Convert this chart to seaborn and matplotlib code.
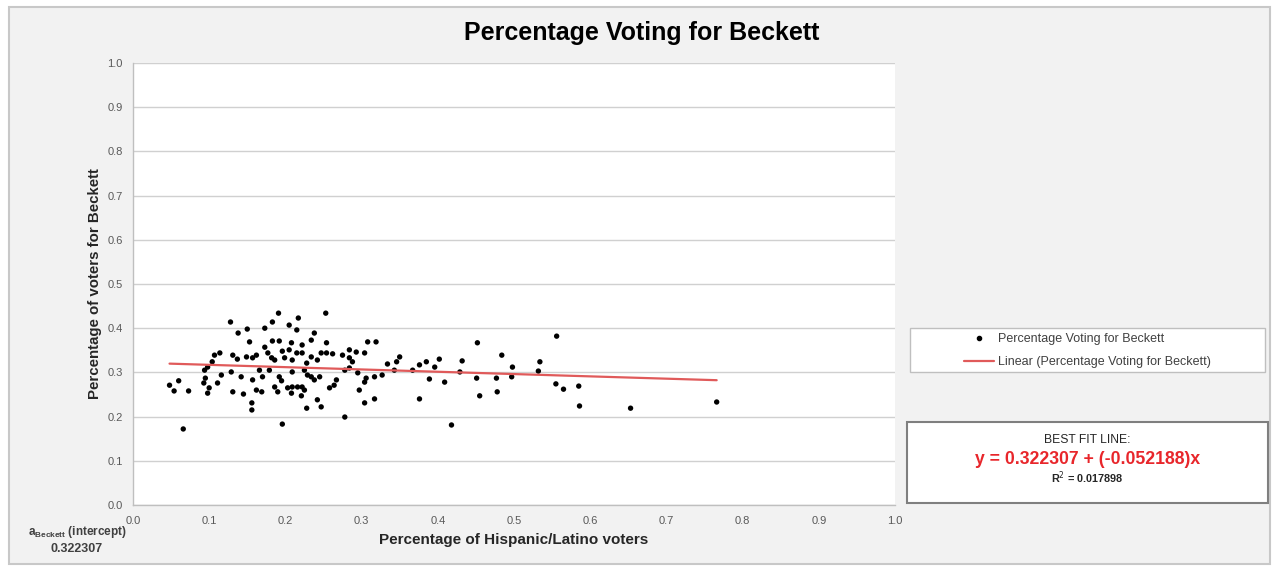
import numpy as np
import pandas as pd
import seaborn as sns
import matplotlib.pyplot as plt
from matplotlib.patches import Rectangle
from matplotlib.lines import Line2D

# share of Hispanic/Latino voters (x) and share voting for Beckett (y)
hispanic_share = [
    0.048, 0.060, 0.054, 0.073, 0.066, 0.093, 0.095, 0.098, 0.100, 0.098,
    0.094, 0.104, 0.107, 0.114, 0.111, 0.116, 0.128, 0.131, 0.129, 0.131,
    0.137, 0.138, 0.142, 0.145, 0.149, 0.150,
    0.191, 0.217, 0.253, 0.183, 0.205, 0.173, 0.215, 0.238, 0.234, 0.183,
    0.192, 0.208, 0.222, 0.254, 0.308, 0.319, 0.153, 0.173, 0.177, 0.196,
    0.205, 0.215, 0.222, 0.234, 0.247, 0.254, 0.262, 0.275, 0.284, 0.293,
    0.304, 0.284, 0.288, 0.157, 0.162, 0.182, 0.186, 0.199, 0.209, 0.228,
    0.242, 0.334, 0.346, 0.350, 0.385, 0.402, 0.432, 0.396, 0.166, 0.179,
    0.209, 0.225, 0.229, 0.278, 0.284, 0.295, 0.306, 0.317, 0.327, 0.343,
    0.367, 0.376, 0.389, 0.409, 0.429, 0.451, 0.452, 0.477, 0.157, 0.170,
    0.192, 0.195, 0.234, 0.238, 0.245, 0.267, 0.264, 0.258, 0.304, 0.162,
    0.169, 0.186, 0.190, 0.203, 0.209, 0.216, 0.222, 0.225, 0.208, 0.221,
    0.297, 0.455, 0.376, 0.304, 0.317, 0.242, 0.247, 0.228, 0.156, 0.156,
    0.278, 0.196, 0.418, 0.478,
    0.484, 0.498, 0.497, 0.556, 0.534, 0.532, 0.555, 0.565, 0.585, 0.586,
    0.653, 0.766,
]
beckett_share = [
    0.271, 0.281, 0.258, 0.258, 0.172, 0.276, 0.287, 0.253, 0.265, 0.312,
    0.305, 0.324, 0.339, 0.344, 0.276, 0.294, 0.414, 0.256, 0.301, 0.339,
    0.330, 0.389, 0.290, 0.251, 0.335, 0.398,
    0.434, 0.423, 0.434, 0.414, 0.407, 0.400, 0.396, 0.389, 0.373, 0.371,
    0.371, 0.367, 0.362, 0.367, 0.369, 0.369, 0.369, 0.357, 0.344, 0.348,
    0.351, 0.344, 0.344, 0.335, 0.344, 0.344, 0.342, 0.339, 0.351, 0.346,
    0.344, 0.333, 0.324, 0.333, 0.339, 0.333, 0.328, 0.333, 0.328, 0.321,
    0.328, 0.319, 0.324, 0.335, 0.324, 0.330, 0.326, 0.312, 0.305, 0.305,
    0.301, 0.305, 0.294, 0.305, 0.310, 0.299, 0.287, 0.290, 0.294, 0.305,
    0.305, 0.317, 0.285, 0.278, 0.301, 0.287, 0.367, 0.287, 0.283, 0.290,
    0.290, 0.281, 0.290, 0.283, 0.290, 0.283, 0.271, 0.265, 0.278, 0.260,
    0.256, 0.267, 0.256, 0.265, 0.267, 0.267, 0.267, 0.260, 0.253, 0.247,
    0.260, 0.247, 0.240, 0.231, 0.240, 0.238, 0.222, 0.219, 0.231, 0.215,
    0.199, 0.183, 0.181, 0.256,
    0.339, 0.312, 0.290, 0.382, 0.324, 0.303, 0.274, 0.262, 0.269, 0.224,
    0.219, 0.233,
]

intercept = 0.322307
slope = -0.052188
r_squared = 0.017898

ticks = [0.0, 0.1, 0.2, 0.3, 0.4, 0.5, 0.6, 0.7, 0.8, 0.9, 1.0]

df = pd.DataFrame({"hispanic": hispanic_share, "beckett": beckett_share})
x_fit = np.array([df["hispanic"].min(), df["hispanic"].max()])
fit = pd.DataFrame({"x": x_fit, "y": intercept + slope * x_fit})

sns.set_theme(style="white")
plt.rcParams["font.family"] = ["Liberation Sans", "DejaVu Sans"]

fig = plt.figure(figsize=(12.76, 5.71), dpi=100)
fig.patch.set_facecolor("white")
fig.patches.append(Rectangle((0.007, 0.012), 0.988, 0.975, transform=fig.transFigure,
                             facecolor="#f2f2f2", edgecolor="#c8c8c8", lw=1.5, zorder=-2))

ax = fig.add_axes([0.1042, 0.1156, 0.5972, 0.7741])
ax.set_zorder(2)
ax.set_facecolor("white")

sns.scatterplot(data=df, x="hispanic", y="beckett", ax=ax, color="black",
                s=15, edgecolor="none", zorder=3)
sns.lineplot(data=fit, x="x", y="y", ax=ax, color="#e05a5a", lw=1.6, zorder=4)

ax.set_xlim(0, 1)
ax.set_ylim(0, 1)
ax.set_xticks(ticks)
ax.set_yticks(ticks)
ax.set_xticklabels([f"{t:.1f}" for t in ticks])
ax.set_yticklabels([f"{t:.1f}" for t in ticks])
ax.tick_params(axis="both", labelsize=8, colors="#595959", length=4, width=0.8,
               direction="out")
ax.tick_params(axis="x", pad=4)
ax.yaxis.grid(True, color="#d0d0d0", lw=1)
ax.xaxis.grid(False)
for side in ["top", "right"]:
    ax.spines[side].set_visible(False)
for side in ["left", "bottom"]:
    ax.spines[side].set_color("#bfbfbf")
    ax.spines[side].set_linewidth(1)

ax.set_xlabel("Percentage of Hispanic/Latino voters", fontsize=11, fontweight="bold",
              color="#262626", labelpad=5)
ax.set_ylabel("Percentage of voters for Beckett", fontsize=10.8, fontweight="bold",
              color="#262626", labelpad=4)

fig.text(0.503, 0.943, "Percentage Voting for Beckett", ha="center", va="center",
         fontsize=18, fontweight="bold", color="black")

# intercept note under the y axis
fig.text(0.061, 0.069, r"a$_{\mathregular{Beckett}}$ (intercept)", ha="center",
         va="center", fontsize=8.5, fontweight="bold", color="#404040")
fig.text(0.060, 0.038, f"{intercept:.6f}", ha="center", va="center",
         fontsize=9, fontweight="bold", color="#404040")

# legend box
fig.patches.append(Rectangle((0.713, 0.349), 0.278, 0.077, transform=fig.transFigure,
                             facecolor="white", edgecolor="#bfbfbf", lw=1, zorder=1))
handles = [
    Line2D([], [], marker="o", color="black", ls="none", markersize=3),
    Line2D([], [], color="#e05a5a", lw=1.6),
]
fig.legend(handles, ["Percentage Voting for Beckett", "Linear (Percentage Voting for Beckett)"],
           loc="center", bbox_to_anchor=(0.852, 0.386), frameon=False, fontsize=9,
           handlelength=2.4, handletextpad=0.3, labelspacing=0.9, labelcolor="#404040")

# best fit box
fig.patches.append(Rectangle((0.711, 0.119), 0.283, 0.142, transform=fig.transFigure,
                             facecolor="white", edgecolor="#7f7f7f", lw=1.5, zorder=1))
fig.text(0.852, 0.229, "BEST FIT LINE:", ha="center", va="center", fontsize=8.7,
         color="#262626")
fig.text(0.852, 0.196, f"y = {intercept:.6f} + ({slope:.6f})x", ha="center",
         va="center", fontsize=12.7, fontweight="bold", color="#e8262b")
fig.text(0.852, 0.164, f"R$^2$ = {r_squared:.6f}", ha="center", va="center",
         fontsize=7.8, fontweight="bold", color="#262626")

plt.savefig("out.png", dpi=100, facecolor=fig.get_facecolor())
